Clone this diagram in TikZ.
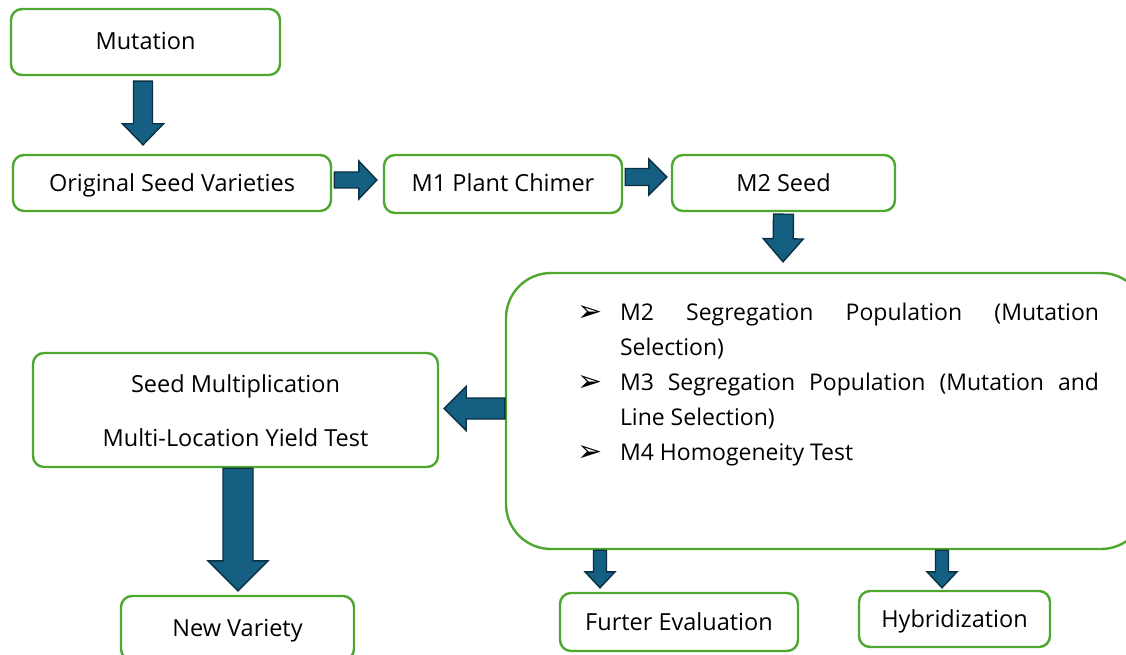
\documentclass[tikz,border=0pt]{standalone}
\usepackage{fontspec}
\setmainfont{Open Sans}
\newfontfamily\symfont{DejaVu Sans}
\usetikzlibrary{calc}
\definecolor{boxgreen}{HTML}{4EA72E}
\definecolor{arrfill}{HTML}{156082}
\definecolor{arrline}{HTML}{0B3041}
\tikzset{
  box/.style={draw=boxgreen, line width=2.4pt, rounded corners=11pt, fill=white,
    font=\fontsize{23.5}{28}\selectfont, inner sep=0pt, align=center,
    text height=16pt, text depth=0pt},
  label/.style={anchor=base, inner sep=0pt, font=\fontsize{23.5}{28}\selectfont},
  blkarrow/.style={fill=arrfill, draw=arrline, line width=1.4pt, line join=miter},
  bullettext/.style={anchor=base west, inner sep=0pt, font=\fontsize{23}{27}\selectfont},
  bulletmark/.style={anchor=base west, inner sep=0pt, font=\symfont\fontsize{30}{30}\selectfont}
}
% block arrow from #1 to #2: half shaft #3, half head #4, head length #5
\newcommand\blk[5]{%
  \coordinate (bA) at (#1); \coordinate (bB) at (#2);
  \coordinate (bH) at ($(bB)!#5!(bA)$);
  \draw[blkarrow] ($(bA)!#3!90:(bB)$) -- ($(bH)!#3!-90:(bA)$) -- ($(bH)!#4!-90:(bA)$)
    -- (bB) -- ($(bH)!#4!90:(bA)$) -- ($(bH)!#3!90:(bA)$) -- ($(bA)!#3!-90:(bB)$) -- cycle;}
\begin{document}
\begin{tikzpicture}[x=1pt,y=-1pt]
\useasboundingbox (0,0) rectangle (1126,655);
% nodes
\node[box, minimum width=269pt, minimum height=66pt] (mut) at (145.5,42) {Mutation};
\node[box, minimum width=318pt, minimum height=56pt] (osv) at (172,183) {Original Seed Varieties};
\node[box, minimum width=238pt, minimum height=58pt] (m1) at (503,184) {M1 Plant Chimer};
\node[box, minimum width=223pt, minimum height=56pt] (m2) at (783.5,183) {M2 Seed};
\node[box, rounded corners=45pt, minimum width=640pt, minimum height=276pt] (big) at (826,411) {};
\node[box, minimum width=405pt, minimum height=114pt] (seed) at (235.5,410) {};
\node[label] (s1) at ($(seed.north)+(0,41)$) {Seed Multiplication};
\node[label] (s2) at ($(seed.north)+(0,95)$) {Multi-Location Yield Test};
\node[box, minimum width=233pt, minimum height=64pt] (newv) at (237.5,628) {New Variety};
\node[box, minimum width=238pt, minimum height=58pt] (fur) at (679,622) {Furter Evaluation};
\node[box, minimum width=191pt, minimum height=56pt] (hyb) at (954.5,619) {Hybridization};
% bullet text
\node[bulletmark] (k1) at ($(big.north west)+(72,50)$) {➢};
\node[bullettext] (b1) at ($(big.north west)+(115,49)$) {\makebox[479pt][s]{M2 Segregation Population (Mutation}};
\node[bullettext] (b2) at ($(big.north west)+(115,84)$) {Selection)};
\node[bulletmark] (k3) at ($(big.north west)+(72,120)$) {➢};
\node[bullettext] (b3) at ($(big.north west)+(115,119)$) {\makebox[479pt][s]{M3 Segregation Population (Mutation and}};
\node[bullettext] (b4) at ($(big.north west)+(115,154)$) {Line Selection)};
\node[bulletmark] (k5) at ($(big.north west)+(72,190)$) {➢};
\node[bullettext] (b5) at ($(big.north west)+(115,189)$) {M4 Homogeneity Test};
% arrows
\blk{$(mut.south)+(-2.5,5)$}{$(osv.north)+(-29,-9)$}{9.5pt}{20.5pt}{21pt}
\blk{$(osv.east)+(2,-3)$}{$(m1.west)+(-6,-4)$}{8pt}{19pt}{18pt}
\blk{$(m1.east)+(2,-7)$}{$(m2.west)+(-4,-6)$}{8.5pt}{18pt}{18pt}
\blk{$(m2.south)+(0,2)$}{$(big.north)+(-43,-10)$}{10pt}{20pt}{23pt}
\blk{$(big.west)+(0,-2.5)$}{$(seed.east)+(5,-1.5)$}{10.5pt}{22pt}{22pt}
\blk{$(seed.south)+(2.5,0)$}{$(newv.north)+(0.5,-4)$}{15pt}{30pt}{30pt}
\blk{$(big.south)+(-226,0)$}{$(fur.north)+(-79,-4)$}{6.5pt}{15pt}{16pt}
\blk{$(big.south)+(116,0)$}{$(hyb.north)+(-12.5,-2)$}{6.5pt}{15pt}{16pt}
\end{tikzpicture}
\end{document}
